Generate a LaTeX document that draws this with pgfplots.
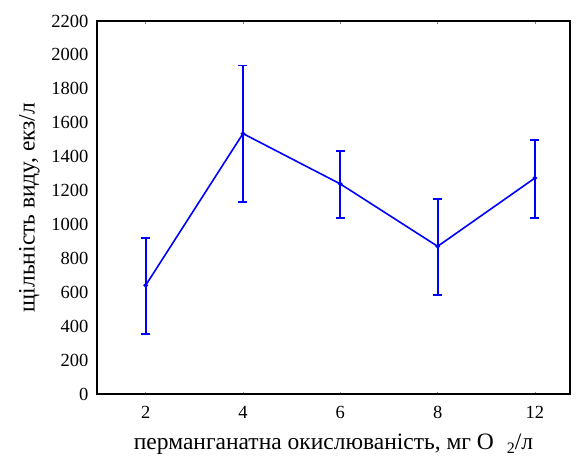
\documentclass[border=0pt]{standalone}
\usepackage{pgfplots}
\pgfplotsset{compat=1.18}
\usepackage{fontspec}
\setmainfont{Liberation Serif}
\begin{document}
\begin{tikzpicture}[x=1pt,y=1pt]
\path[use as bounding box] (-97,-62) rectangle (479,394);
\begin{axis}[
  at={(0,0)}, anchor=south west,
  scale only axis,
  width=473pt, height=373pt,
  xmin=-0.5, xmax=4.36,
  ymin=0, ymax=2200,
  xtick={0,1,2,3,4},
  xticklabels={2,4,6,8,12},
  ytick={0,200,...,2200},
  axis line style={line width=1.6pt},
  tick align=inside,
  major tick length=2.5pt,
  xtick pos=both,
  ytick style={draw=none},
  x tick style={line width=0.8pt},
  tick label style={font=\fontsize{18.5}{22}\selectfont},
  /pgf/number format/assume math mode=true,
  /pgf/number format/1000 sep={},
  yticklabel style={xshift=-5pt},
  xticklabel style={yshift=-9pt},
  xlabel={перманганатна окислюваність, мг O\hspace{0.55em}\raisebox{-0.35ex}{\fontsize{16}{18}\selectfont 2}/л},
  ylabel={щільність виду, екз/л},
  label style={font=\fontsize{23.5}{27}\selectfont},
  xlabel style={yshift=-8pt},
  ylabel style={yshift=5pt},
]
\addplot[
  blue, line width=1.6pt,
  mark=*, mark size=1.4pt,
  error bars/.cd,
    y dir=both, y explicit,
    error mark options={rotate=90, mark size=4.5pt, line width=1.8pt},
    error bar style={line width=1.9pt},
] coordinates {
  (0, 641)  += (0, 278) -= (0, 287)
  (1, 1536) += (0, 401) -= (0, 403)
  (2, 1239) += (0, 196) -= (0, 203)
  (3, 871)  += (0, 281) -= (0, 285)
  (4, 1274) += (0, 225) -= (0, 236)
};
\end{axis}
\end{tikzpicture}
\end{document}
